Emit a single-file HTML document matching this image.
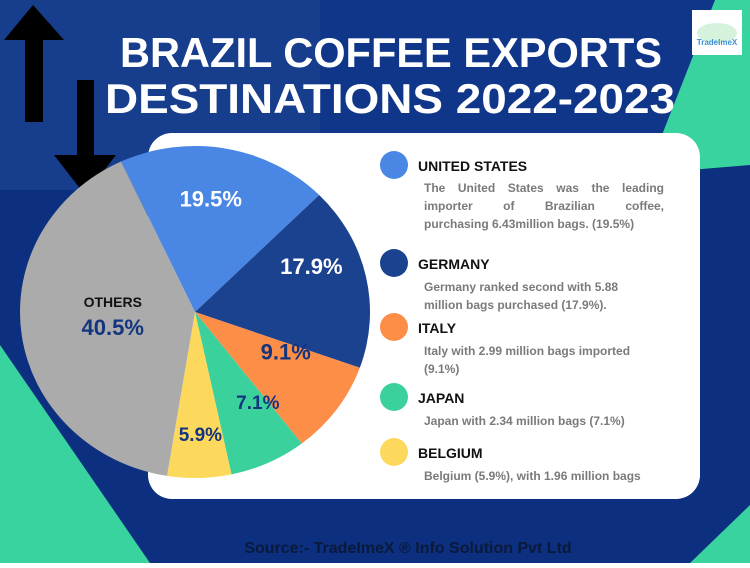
<!DOCTYPE html>
<html><head><meta charset="utf-8">
<style>
body{margin:0;width:750px;height:563px;overflow:hidden;font-family:"Liberation Sans",sans-serif;}
svg text{font-family:"Liberation Sans",sans-serif;}
</style></head>
<body>
<svg width="750" height="563" viewBox="0 0 750 563" xmlns="http://www.w3.org/2000/svg">
<rect x="0" y="0" width="750" height="563" fill="#0c2f80"/>
<rect x="0" y="0" width="320" height="190" fill="#173e8c"/>
<rect x="320" y="0" width="400" height="140" fill="#10368a"/>
<polygon points="715,0 750,0 750,165 690,170 660,140" fill="#38d39f"/>
<polygon points="0,345 150,563 0,563" fill="#38d39f"/>
<polygon points="750,505 750,563 690,563" fill="#38d39f"/>
<g fill="#000">
<polygon points="33,5 64,40 43,40 43,122 25,122 25,40 4,40"/>
</g>
<g fill="#000">
<polygon points="77,80 94,80 94,155 116,155 85,195 54,155 77,155"/>
</g>
<text x="120" y="67" textLength="542" lengthAdjust="spacingAndGlyphs" fill="#fff" font-size="42" font-weight="bold">BRAZIL COFFEE EXPORTS</text>
<text x="105" y="113" textLength="570" lengthAdjust="spacingAndGlyphs" fill="#fff" font-size="42" font-weight="bold">DESTINATIONS 2022-2023</text>
<g>
<rect x="692" y="10" width="50" height="45" fill="#fff"/>
<ellipse cx="717" cy="33" rx="20" ry="10" fill="#d4f2dc"/>
<text x="717" y="45" text-anchor="middle" font-size="8" font-weight="bold" fill="#3d8fd6">TradeImeX</text>
</g>
<rect x="148" y="133" width="552" height="366" rx="24" fill="#fff"/>
<g id="pie"></g>
<g id="legend"></g>
<text x="408" y="553" text-anchor="middle" font-size="16" font-weight="bold" fill="#0a1a3a">Source:- TradeImeX ® Info Solution Pvt Ltd</text>
</svg>
<script>
const categories=["UNITED STATES","GERMANY","ITALY","JAPAN","BELGIUM","OTHERS"];
const shares=[19.5,17.9,9.1,7.1,5.9,40.5];
const colors=["#4a86e4","#1a428f","#fd8e48","#3bd19c","#fcd95c","#ababab"];
const labelColors=["#fff","#fff","#13357f","#13357f","#13357f","#13357f"];
const labelShift=[-2.6,-10,-11.5,-9,-1,8];
const labelRadius=[0.69,0.72,0.57,0.645,0.73,0.47];
const descriptions=[
["The United States was the leading","importer of Brazilian coffee,","purchasing 6.43million bags. (19.5%)"],
["Germany ranked second with 5.88","million bags purchased (17.9%)."],
["Italy with 2.99 million bags imported","(9.1%)"],
["Japan with 2.34 million bags (7.1%)"],
["Belgium (5.9%), with 1.96 million bags"]];
const NS="http://www.w3.org/2000/svg";
const cx=195,cy=312,rx=175,ry=166,startDeg=-25;
function pt(deg,f){const a=deg*Math.PI/180;return [cx+rx*f*Math.sin(a),cy-ry*f*Math.cos(a)];}
const pie=document.getElementById('pie');
const total=shares.reduce((a,b)=>a+b,0);
let acc=startDeg;
shares.forEach((v,i)=>{
 const sweep=v/total*360,a0=acc,a1=acc+sweep;acc=a1;
 const p0=pt(a0,1),p1=pt(a1,1);
 const p=document.createElementNS(NS,'path');
 p.setAttribute('d',`M${cx},${cy}L${p0[0]},${p0[1]}A${rx},${ry} 0 ${sweep>180?1:0} 1 ${p1[0]},${p1[1]}Z`);
 p.setAttribute('fill',colors[i]);
 
 
 pie.appendChild(p);
 const mid=(a0+a1)/2+labelShift[i];
 const lp=pt(mid,labelRadius[i]);
 const t=document.createElementNS(NS,'text');
 t.setAttribute('x',lp[0]);t.setAttribute('y',lp[1]+(i===5?23:8));
 t.setAttribute('text-anchor','middle');t.setAttribute('font-weight','bold');
 t.setAttribute('font-size',i===5?22:(v<8?19:22));t.setAttribute('fill',labelColors[i]);
 t.textContent=v.toFixed(1)+'%';
 
 
 pie.appendChild(t);
 if(i===5){const o=document.createElementNS(NS,'text');
  o.setAttribute('x',lp[0]);o.setAttribute('y',lp[1]-5);o.setAttribute('text-anchor','middle');
  o.setAttribute('font-weight','bold');o.setAttribute('font-size','14');o.setAttribute('fill','#111');
  o.textContent='OTHERS';
  
  
  pie.appendChild(o);}
});
const legend=document.getElementById('legend');
const ys=[165,263,327,397,452];
for(let i=0;i<5;i++){
 const g=document.createElementNS(NS,'g');
 
 
 const c=document.createElementNS(NS,'circle');
 c.setAttribute('cx',394);c.setAttribute('cy',ys[i]);c.setAttribute('r',14);c.setAttribute('fill',colors[i]);
 g.appendChild(c);
 const h=document.createElementNS(NS,'text');
 h.setAttribute('x',418);h.setAttribute('y',ys[i]+6);h.setAttribute('font-size','14');h.setAttribute('font-weight','bold');h.setAttribute('fill','#111');
 h.textContent=categories[i];g.appendChild(h);
 legend.appendChild(g);
 descriptions[i].forEach((line,j)=>{
  const d=document.createElementNS(NS,'text');
  d.setAttribute('x',424);d.setAttribute('y',ys[i]+26+j*18+(i===0?1:2));d.setAttribute('font-size','12');d.setAttribute('font-weight','bold');d.setAttribute('fill','#7a7a7a');
  d.textContent=line;g.appendChild(d);
  if(i===0&&j<2){
   const w=d.getComputedTextLength();const gaps=line.split(' ').length-1;
   if(gaps>0&&w<240)d.setAttribute('word-spacing',((240-w)/gaps).toFixed(2));
  }
 });
}
</script>
</body></html>
